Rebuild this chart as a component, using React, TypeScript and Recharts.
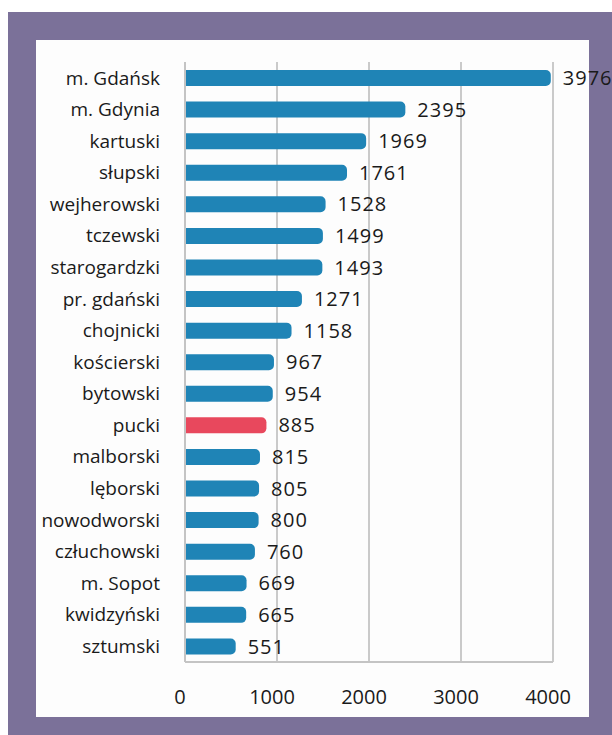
import { BarChart, Bar, XAxis, YAxis, CartesianGrid, Cell, LabelList } from 'recharts';

const districts = [
  'm. Gdańsk', 'm. Gdynia', 'kartuski', 'słupski', 'wejherowski', 'tczewski',
  'starogardzki', 'pr. gdański', 'chojnicki', 'kościerski', 'bytowski', 'pucki',
  'malborski', 'lęborski', 'nowodworski', 'człuchowski', 'm. Sopot', 'kwidzyński', 'sztumski',
];
const counts = [3976, 2395, 1969, 1761, 1528, 1499, 1493, 1271, 1158, 967, 954, 885, 815, 805, 800, 760, 669, 665, 551];
const highlighted = ['pucki'];
const xTicks = [0, 1000, 2000, 3000, 4000];

const BLUE = '#1f84b6';
const RED = '#e8485d';

const data = districts.map((name, i) => ({ name, value: counts[i] }));

export default function App() {
  return (
    <div style={{ position: 'absolute', left: 0, top: 0, width: 612, height: 735, background: '#fff', overflow: 'hidden' }}>
      {/* purple frame */}
      <div style={{ position: 'absolute', left: 8, top: 12, width: 620, height: 723, background: '#7b7199' }} />
      {/* white panel */}
      <div style={{ position: 'absolute', left: 36, top: 40, width: 553, height: 677, background: '#fdfdfd' }} />
      <div style={{ position: 'absolute', left: 0, top: 0 }}>
        <BarChart
          width={612}
          height={735}
          data={data}
          layout="vertical"
          margin={{ top: 62, right: 59, bottom: 33, left: 0 }}
          barCategoryGap={8}
        >
          <CartesianGrid horizontal={false} stroke="#cacaca" strokeWidth={2} />
          <XAxis
            type="number"
            domain={[0, 4000]}
            ticks={xTicks}
            height={40}
            axisLine={{ stroke: '#c4c4c4', strokeWidth: 2 }}
            tickLine={false}
            tickSize={0}
            tickMargin={28}
            tick={{ fill: '#1a1a1a', fontSize: 20, fontFamily: 'Open Sans', dx: -5 }}
          />
          <YAxis
            type="category"
            dataKey="name"
            width={185}
            axisLine={{ stroke: '#c4c4c4', strokeWidth: 2 }}
            tickLine={false}
            tickSize={0}
            tickMargin={25}
            interval={0}
            tick={{ fill: '#1a1a1a', fontSize: 19, fontFamily: 'Open Sans' }}
          />
          <Bar dataKey="value" barSize={16} radius={[0, 5, 5, 0]} isAnimationActive={false}>
            {data.map((d) => (
              <Cell key={d.name} fill={highlighted.includes(d.name) ? RED : BLUE} />
            ))}
            <LabelList
              dataKey="value"
              position="right"
              offset={12}
              style={{ fill: '#1a1a1a', fontSize: 20, fontFamily: 'Open Sans', letterSpacing: 1 }}
            />
          </Bar>
        </BarChart>
      </div>
    </div>
  );
}
